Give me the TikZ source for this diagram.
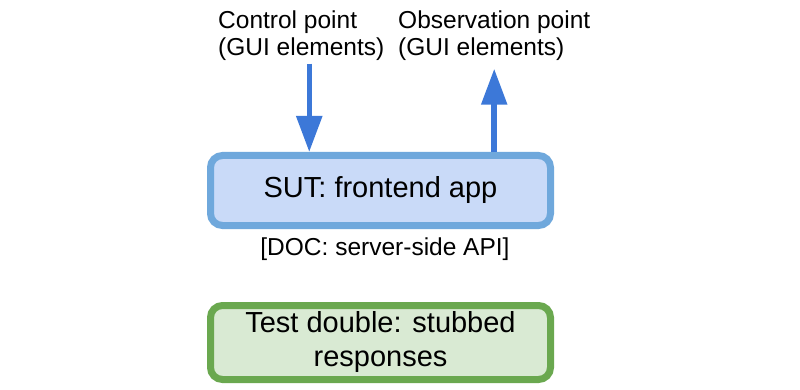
\documentclass[tikz,border=0pt]{standalone}
\usepackage{fontspec}
\setmainfont{Liberation Sans}
\usetikzlibrary{arrows.meta}
\definecolor{arrblue}{HTML}{3C78D8}
\definecolor{sutfill}{HTML}{C9DAF8}
\definecolor{sutline}{HTML}{6FA8DC}
\definecolor{tdfill}{HTML}{D9EAD3}
\definecolor{tdline}{HTML}{6AA84F}
\tikzset{
  lbl/.style={inner sep=0pt, align=left, font=\fontsize{24.5}{27}\selectfont},
  boxnode/.style={rounded corners=12pt, line width=7pt, minimum width=340pt, inner sep=0pt, align=center, font=\fontsize{29}{34}\selectfont},
  arr/.style={draw=arrblue, line width=5.5pt, -{Triangle[length=36pt,width=25pt]}}
}
\begin{document}
\begin{tikzpicture}[x=1pt,y=-1pt]
\useasboundingbox (0,0) rectangle (800,390);
\fill[white] (0,0) rectangle (800,390);
% top labels
\node[lbl, anchor=north west] (ctl) at (218,10.5) {Control point\\(GUI elements)};
\node[lbl, anchor=north west] (obs) at (398,10.5) {Observation point\\(GUI elements)};
% boxes
\node[boxnode, draw=sutline, fill=sutfill, minimum height=70pt] (sut) at (380.5,190.5) {\raisebox{-2pt}{SUT: frontend app}};
\node[lbl, anchor=base] (doc) at (385,255) {[DOC: server-side API]};
\node[boxnode, draw=tdline, fill=tdfill, minimum height=74pt] (td) at (380.5,342.5) {Test double: stubbed\\responses};
% arrows
\draw[arr, shorten <=3pt] ([xshift=8pt]ctl.south) -- ([xshift=8pt]ctl.south |- sut.north);
\draw[arr, shorten >=8pt] (obs.south |- sut.north) -- (obs.south);
\end{tikzpicture}
\end{document}
